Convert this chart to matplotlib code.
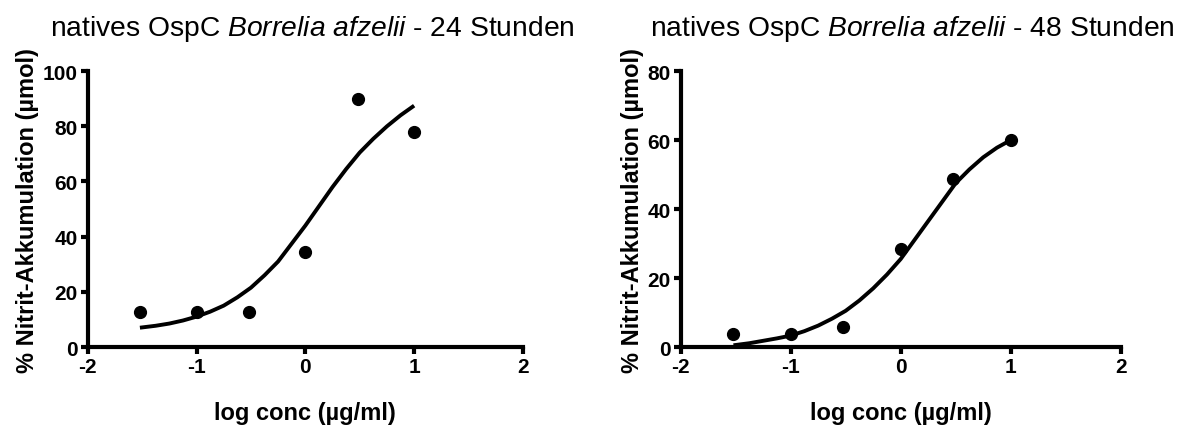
import matplotlib
matplotlib.use("Agg")
import matplotlib.pyplot as plt

plt.rcParams['font.family'] = ['Liberation Sans', 'DejaVu Sans']
plt.rcParams['mathtext.fontset'] = 'custom'
plt.rcParams['mathtext.rm'] = 'Liberation Sans'
plt.rcParams['mathtext.it'] = 'Liberation Sans:italic'
plt.rcParams['axes.unicode_minus'] = False

# Data: log concentration (µg/ml)
log_conc = [-1.52, -1.0, -0.52, 0.0, 0.48, 1.0]
nitrit_24h = [12.7, 12.7, 12.7, 34.6, 90.0, 77.8]
nitrit_48h = [3.7, 3.7, 5.8, 28.4, 48.7, 60.0]

# Fitted curves
curve_x = [-1.52, -1.375, -1.25, -1.125, -1.0, -0.875, -0.75, -0.625, -0.5, -0.375,
           -0.25, -0.125, 0.0, 0.125, 0.25, 0.375, 0.5, 0.625, 0.75, 0.875, 1.0]
curve_24h = [7.0, 7.7, 8.5, 9.6, 11.0, 12.8, 15.0, 18.0, 21.5, 26.0,
             31.0, 37.5, 44.0, 51.0, 58.0, 64.5, 70.5, 75.5, 80.0, 84.0, 87.5]
curve_48h = [0.5, 1.1, 1.8, 2.5, 3.3, 4.6, 6.2, 8.2, 10.5, 13.5,
             17.0, 21.0, 25.5, 31.0, 36.5, 42.0, 47.5, 51.5, 55.0, 57.8, 60.0]

titles = ["24 Stunden", "48 Stunden"]
ylims = [100, 80]
xticks = [-2, -1, 0, 1, 2]

fig = plt.figure(figsize=(11.85, 4.27), dpi=100)
axes_pos = [[0.074, 0.185, 0.3673, 0.646], [0.5744, 0.185, 0.3713, 0.646]]
title_x = [0.515, 0.526]

for i, (pts, curve) in enumerate([(nitrit_24h, curve_24h), (nitrit_48h, curve_48h)]):
    ax = fig.add_axes(axes_pos[i])
    ax.plot(curve_x, curve, color='black', lw=2.8, solid_capstyle='butt', zorder=2, clip_on=False)
    ax.plot(log_conc, pts, 'o', color='black', ms=8.5, zorder=3, clip_on=False)
    ax.set_xlim(-2, 2)
    ax.set_ylim(0, ylims[i])
    ax.set_xticks(xticks)
    ax.set_yticks(range(0, ylims[i] + 1, 20))
    for s in ['top', 'right']:
        ax.spines[s].set_visible(False)
    for s in ['left', 'bottom']:
        ax.spines[s].set_linewidth(3.0)
        ax.spines[s].set_capstyle('projecting')
    ax.tick_params(width=3.0, length=5, labelsize=15, pad=2)
    for lab in ax.get_xticklabels() + ax.get_yticklabels():
        lab.set_fontweight('bold')
    ax.set_xlabel('log conc (µg/ml)', fontsize=17, fontweight='bold', labelpad=18)
    ax.set_ylabel('% Nitrit-Akkumulation (µmol)', fontsize=17, fontweight='bold', labelpad=3)
    ax.set_title('natives OspC $\\it{Borrelia\\ afzelii}$ - ' + titles[i], fontsize=20.3, pad=26,
                 x=title_x[i])

fig.savefig('out.png', dpi=100)
